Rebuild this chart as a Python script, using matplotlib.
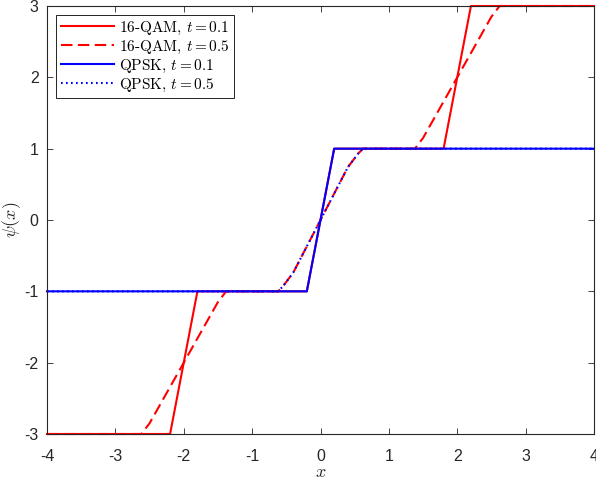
import matplotlib
matplotlib.use("Agg")
import matplotlib.pyplot as plt

plt.rcParams['mathtext.fontset'] = 'cm'
plt.rcParams['axes.unicode_minus'] = False
plt.rcParams['font.family'] = ['Liberation Sans', 'DejaVu Sans']

# data
x_qam_01 = [-4, -2.2, -1.8, -0.2, 0.2, 1.8, 2.2, 4]
y_qam_01 = [-3, -3, -1, -1, 1, 1, 3, 3]

x_qam_05 = [-4, -2.62, -2.5, -2.0, -1.5, -1.38, -0.62, -0.55, -0.4, 0.0, 0.4, 0.55, 0.62, 1.38, 1.5, 2.0, 2.5, 2.62, 4]
y_qam_05 = [-3, -3, -2.85, -2.0, -1.15, -1, -1, -0.93, -0.74, 0.0, 0.74, 0.93, 1, 1, 1.15, 2.0, 2.85, 3, 3]

x_qpsk_01 = [-4, -0.2, 0.2, 4]
y_qpsk_01 = [-1, -1, 1, 1]

x_qpsk_05 = [-4, -0.62, -0.55, -0.4, 0.0, 0.4, 0.55, 0.62, 4]
y_qpsk_05 = [-1, -1, -0.93, -0.74, 0.0, 0.74, 0.93, 1, 1]

labels = ['16-QAM, $t = 0.1$', '16-QAM, $t = 0.5$', 'QPSK, $t = 0.1$', 'QPSK, $t = 0.5$']
xticks = [-4, -3, -2, -1, 0, 1, 2, 3, 4]
yticks = [-3, -2, -1, 0, 1, 2, 3]

fig = plt.figure(figsize=(5.96, 4.80), dpi=100)
ax = fig.add_axes([47/596, 1-434/480, (594-47)/596, (434-6)/480])

ax.plot(x_qam_01, y_qam_01, color='#ff0000', lw=1.5, ls='-', label=labels[0], clip_on=False)
ax.plot(x_qam_05, y_qam_05, color='#ff0000', lw=1.5, ls=(0, (5.5, 2.6)), label=labels[1], clip_on=False)
ax.plot(x_qpsk_01, y_qpsk_01, color='#0000ff', lw=1.5, ls='-', label=labels[2], clip_on=False)
ax.plot(x_qpsk_05, y_qpsk_05, color='#0000ff', lw=1.5, ls=(0, (0.8, 1.6)), label=labels[3], clip_on=False)

ax.set_xlim(-4, 4)
ax.set_ylim(-3, 3)
ax.set_xticks(xticks)
ax.set_yticks(yticks)
ax.set_xticklabels([str(v) for v in xticks])
ax.set_yticklabels([str(v) for v in yticks])

axc = '#262626'
for s in ax.spines.values():
    s.set_color(axc)
    s.set_linewidth(0.8)
ax.tick_params(direction='in', length=4, width=0.6, colors=axc, labelsize=11.5,
               top=True, right=True)
ax.tick_params(axis='x', pad=11)
ax.tick_params(axis='y', pad=6)

ax.set_xlabel('$x$', fontsize=13, color=axc)
ax.set_ylabel(r'$\psi(x)$', fontsize=13, color=axc)
ax.xaxis.set_label_coords(0.5, -0.071)
ax.yaxis.set_label_coords(-0.043, 0.5)

leg = ax.legend(loc='upper left', handlelength=3.5, fancybox=False,
                framealpha=1, edgecolor='black', borderaxespad=0.6,
                labelspacing=0.12, handletextpad=0.3, borderpad=0.3,
                prop={'family': 'cmr10', 'size': 11})
leg.get_frame().set_linewidth(0.6)

fig.savefig('out.png', dpi=100)
